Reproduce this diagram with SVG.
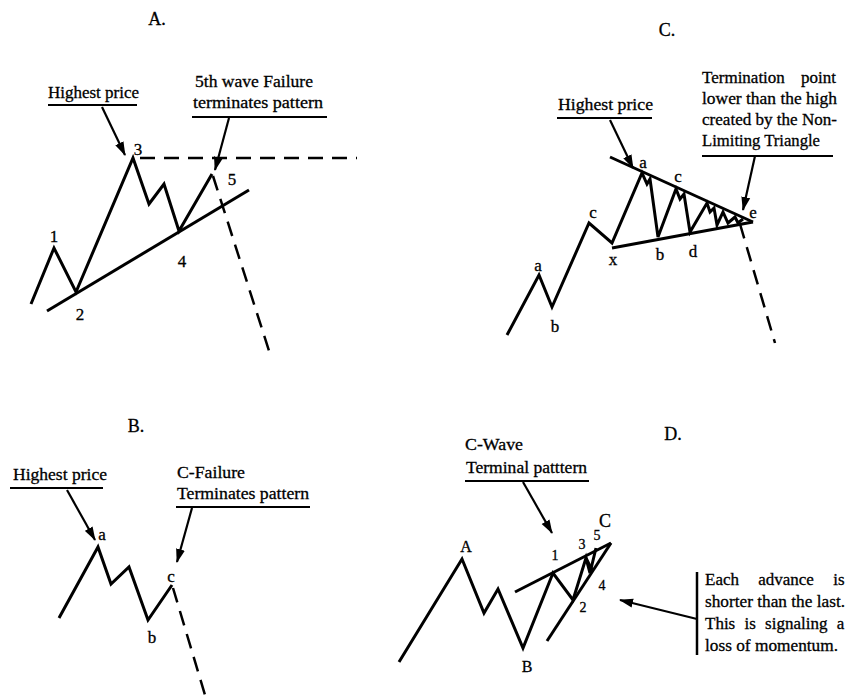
<svg xmlns="http://www.w3.org/2000/svg" width="848" height="696" viewBox="0 0 848 696">
<defs>
<marker id="ah" markerWidth="14" markerHeight="10" refX="13" refY="5" orient="auto" markerUnits="userSpaceOnUse">
<path d="M0,0.5 L14,5 L0,9.5 Z" fill="#000"/>
</marker>
<style>
text{font-family:"Liberation Serif","Times New Roman",serif;fill:#000;stroke:#000;stroke-width:0.3}
.t{font-size:17px}
.lbl{font-size:17px;text-anchor:middle}
.sm{font-size:14px;text-anchor:middle}
.ttl{font-size:18px;text-anchor:middle}
.w{fill:none;stroke:#000;stroke-width:3;stroke-linejoin:miter;stroke-linecap:butt}
.tl{fill:none;stroke:#000;stroke-width:3}
.d{fill:none;stroke:#000;stroke-width:2.5;stroke-dasharray:15 9}
.ul{stroke:#000;stroke-width:2}
.ar{stroke:#000;stroke-width:2.2;fill:none;marker-end:url(#ah)}
</style>
</defs>
<rect width="848" height="696" fill="#fff"/>

<g id="panelA">
<text class="ttl" x="157" y="25">A.</text>
<polyline class="w" points="31,304 54,248 76,292 133,158 149,204 164,184 179,231 212,174"/>
<line class="tl" x1="47" y1="311" x2="249" y2="190"/>
<line class="d" x1="140" y1="158" x2="357" y2="158"/>
<line class="d" x1="213" y1="176" x2="271" y2="357"/>
<text class="lbl" x="54" y="242">1</text>
<text class="lbl" x="80" y="320">2</text>
<text class="lbl" x="138" y="155">3</text>
<text class="lbl" x="182" y="267">4</text>
<text class="lbl" x="232" y="185">5</text>
<text class="t" x="48" y="98" textLength="91" lengthAdjust="spacingAndGlyphs">Highest price</text>
<line class="ul" x1="48" y1="105" x2="137" y2="105"/>
<text class="t" x="195" y="87" textLength="118" lengthAdjust="spacingAndGlyphs">5th wave Failure</text>
<text class="t" x="193" y="108" textLength="130" lengthAdjust="spacingAndGlyphs">terminates pattern</text>
<line class="ul" x1="192" y1="117" x2="327" y2="117"/>
</g>

<g id="panelC">
<text class="ttl" x="667" y="36">C.</text>
<polyline class="w" points="507,335 539,275 552,307 589,223 612,243 642,173 647,184 650,179 658,237 676,189 680,199 684,194 690,232 707,203 710,212 714,208 717,225 723,212 728,223 735,217 738,223 743,219"/>
<line class="tl" x1="610" y1="157" x2="753" y2="222"/>
<line class="tl" x1="612" y1="248" x2="753" y2="222"/>
<line class="d" x1="740" y1="224" x2="775" y2="343"/>
<text class="lbl" x="538" y="271">a</text>
<text class="lbl" x="555" y="332">b</text>
<text class="lbl" x="593" y="218">c</text>
<text class="lbl" x="613" y="265">x</text>
<text class="lbl" x="643" y="168">a</text>
<text class="lbl" x="660" y="260">b</text>
<text class="lbl" x="678" y="182">c</text>
<text class="lbl" x="693" y="257">d</text>
<text class="lbl" x="753" y="218">e</text>
<text class="t" x="558" y="110" textLength="95" lengthAdjust="spacingAndGlyphs">Highest price</text>
<line class="ul" x1="557" y1="118" x2="652" y2="118"/>
<text class="t" x="702" y="83" word-spacing="12">Termination point</text>
<text class="t" x="702" y="104" textLength="135" lengthAdjust="spacingAndGlyphs">lower than the high</text>
<text class="t" x="702" y="125" textLength="135" lengthAdjust="spacingAndGlyphs">created by the Non-</text>
<text class="t" x="702" y="146" textLength="118" lengthAdjust="spacingAndGlyphs">Limiting Triangle</text>
<line class="ul" x1="702" y1="156" x2="833" y2="156"/>
</g>

<g id="panelB">
<text class="ttl" x="136" y="432">B.</text>
<polyline class="w" points="59,618 98,547 111,584 129,567 148,620 172,585"/>
<line class="d" x1="173" y1="588" x2="205" y2="695"/>
<text class="lbl" x="102" y="540">a</text>
<text class="lbl" x="152" y="643">b</text>
<text class="lbl" x="171" y="582">c</text>
<text class="t" x="13" y="480" textLength="94" lengthAdjust="spacingAndGlyphs">Highest price</text>
<line class="ul" x1="10" y1="488" x2="103" y2="488"/>
<text class="t" x="177" y="478" textLength="68" lengthAdjust="spacingAndGlyphs">C-Failure</text>
<text class="t" x="177" y="499" textLength="132" lengthAdjust="spacingAndGlyphs">Terminates pattern</text>
<line class="ul" x1="176" y1="507" x2="310" y2="507"/>
</g>

<g id="panelD">
<text class="ttl" x="673" y="440">D.</text>
<polyline class="w" points="399,662 462,559 484,613 498,589 523,648 553,573 573,600 586,558 590,573 596,548"/>
<line class="w" x1="586" y1="558" x2="592" y2="570"/>
<line class="tl" x1="515" y1="592" x2="611" y2="543"/>
<line class="tl" x1="547" y1="641" x2="611" y2="543"/>
<text class="ttl" x="466" y="552" style="font-size:16px">A</text>
<text class="ttl" x="527" y="672" style="font-size:16px">B</text>
<text class="ttl" x="605" y="527">C</text>
<text class="sm" x="555" y="560">1</text>
<text class="sm" x="583" y="612">2</text>
<text class="sm" x="582" y="549">3</text>
<text class="sm" x="602" y="590">4</text>
<text class="sm" x="597" y="540">5</text>
<text class="t" x="465" y="450" textLength="58" lengthAdjust="spacingAndGlyphs">C-Wave</text>
<text class="t" x="466" y="473" textLength="121" lengthAdjust="spacingAndGlyphs">Terminal patttern</text>
<line class="ul" x1="465" y1="481" x2="589" y2="481"/>
<line class="tl" x1="697" y1="572" x2="697" y2="655" style="stroke-width:2.5"/>
<text class="t" x="705" y="585" word-spacing="15">Each advance is</text>
<text class="t" x="705" y="607" textLength="140" lengthAdjust="spacingAndGlyphs">shorter than the last.</text>
<text class="t" x="705" y="629" word-spacing="5">This is signaling a</text>
<text class="t" x="705" y="651" textLength="133" lengthAdjust="spacingAndGlyphs">loss of momentum.</text>
</g>

<g id="connectors">
<line class="ar" x1="102" y1="107" x2="125" y2="155"/>
<line class="ar" x1="229" y1="118" x2="215" y2="170"/>
<line class="ar" x1="610" y1="120" x2="633" y2="168"/>
<line class="ar" x1="755" y1="156" x2="743" y2="210"/>
<line class="ar" x1="67" y1="490" x2="95" y2="540"/>
<line class="ar" x1="192" y1="508" x2="177" y2="562"/>
<line class="ar" x1="523" y1="482" x2="552" y2="533"/>
<line class="ar" x1="697" y1="619" x2="620" y2="600"/>
</g>
</svg>
